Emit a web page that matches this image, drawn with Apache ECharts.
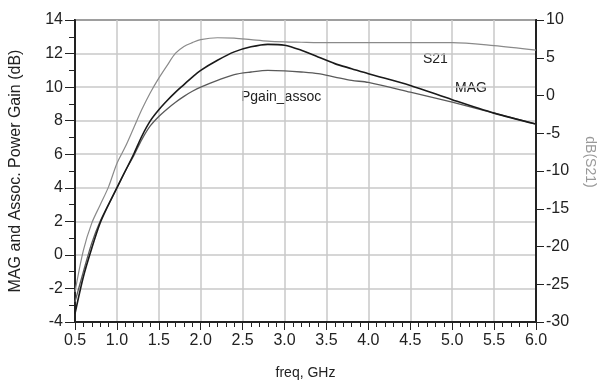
<!DOCTYPE html>
<html>
<head>
<meta charset="utf-8">
<script src="https://cdn.jsdelivr.net/npm/echarts@6/dist/echarts.min.js"></script>
<style>
  html, body { margin: 0; padding: 0; background: #fff; }
  #chart { width: 605px; height: 385px; }
</style>
</head>
<body>
<div id="chart"></div>
<script>
// frequency points (GHz)
var freq = [0.5, 0.6, 0.7, 0.8, 0.9, 1.0, 1.1, 1.2, 1.3, 1.4, 1.5, 1.6, 1.7, 1.8, 1.9, 2.0,
  2.2, 2.4, 2.6, 2.8, 3.0, 3.2, 3.4, 3.6, 3.8, 4.0, 4.5, 5.0, 5.5, 6.0]
// dB(S21), right axis
var s21 = [-26, -20.5, -16.9, -14.5, -12.1, -9.0, -6.8, -4.3, -1.8, 0.4, 2.3, 4.0, 5.6, 6.5, 7.0, 7.4,
  7.65, 7.6, 7.4, 7.2, 7.1, 7.05, 7.0, 7.0, 7.0, 7.0, 7.0, 7.0, 6.6, 6.0]
// MAG (dB), left axis
var mag = [-3.5, -1.3, 0.4, 1.9, 3.0, 4.0, 5.0, 6.0, 7.1, 8.0, 8.65, 9.2, 9.7, 10.15, 10.6, 11.0,
  11.6, 12.1, 12.4, 12.55, 12.5, 12.2, 11.8, 11.4, 11.1, 10.8, 10.1, 9.25, 8.45, 7.8]
// Pgain_assoc (dB), left axis
var pgain = [-2.8, -1.0, 0.7, 2.0, 3.0, 4.0, 5.0, 5.9, 6.9, 7.7, 8.25, 8.7, 9.1, 9.45, 9.75, 10.0,
  10.4, 10.75, 10.9, 11.0, 10.97, 10.9, 10.8, 10.6, 10.4, 10.28, 9.7, 9.1, 8.45, 7.8]

function pairs(ys) {
  return freq.map(function (f, i) { return [f, ys[i]] })
}

var font = 'Liberation Sans, Arial, sans-serif'
var chart = echarts.init(document.getElementById('chart'))
var option = {
  animation: false,
  textStyle: { fontFamily: font },
  grid: {
    left: 74, right: 69, top: 20, bottom: 60,
    show: true, borderColor: '#222', borderWidth: 2
  },
  xAxis: {
    type: 'value', min: 0.5, max: 6, interval: 0.5,
    name: 'freq, GHz', nameLocation: 'middle', nameGap: 44,
    nameTextStyle: { color: '#222', fontSize: 14, fontFamily: font },
    axisLine: { onZero: false, lineStyle: { color: '#222', width: 2 } },
    axisTick: { length: 8, lineStyle: { color: '#222' } },
    minorTick: { show: true, splitNumber: 5, length: 5, lineStyle: { color: '#222' } },
    axisLabel: {
      color: '#222', fontSize: 16, margin: 11, fontFamily: font,
      formatter: function (v) { return v.toFixed(1) }
    },
    splitLine: { show: true, lineStyle: { color: '#c8c8c8', width: 1.5 } }
  },
  yAxis: [
    {
      type: 'value', min: -4, max: 14, interval: 2,
      name: 'MAG and Assoc. Power Gain (dB)', nameLocation: 'middle', nameGap: 51,
      nameTextStyle: { color: '#222', fontSize: 16, fontFamily: font },
      axisLine: { show: true, onZero: false, lineStyle: { color: '#222', width: 2 } },
      axisTick: { show: true, length: 10, lineStyle: { color: '#222' } },
      minorTick: { show: true, splitNumber: 2, length: 6, lineStyle: { color: '#222' } },
      axisLabel: { color: '#222', fontSize: 16, margin: 12, fontFamily: font },
      splitLine: { show: true, lineStyle: { color: '#c8c8c8', width: 1.5 } }
    },
    {
      type: 'value', min: -30, max: 10, interval: 5, position: 'right',
      axisLine: { show: true, onZero: false, lineStyle: { color: '#222', width: 2 } },
      axisTick: { show: true, length: 8, lineStyle: { color: '#222' } },
      axisLabel: { color: '#222', fontSize: 16, margin: 10, fontFamily: font },
      splitLine: { show: false }
    }
  ],
  graphic: [
    { type: 'text', x: 423, y: 52, style: { text: 'S21', font: '14px ' + font, fill: '#222' } },
    { type: 'text', x: 455, y: 81, style: { text: 'MAG', font: '14px ' + font, fill: '#222' } },
    { type: 'text', x: 241, y: 90, style: { text: 'Pgain_assoc', font: '14px ' + font, fill: '#222' } },
    {
      type: 'text', x: 590, y: 162, rotation: -Math.PI / 2,
      style: { text: 'dB(S21)', font: '14px ' + font, fill: '#999', align: 'center', verticalAlign: 'middle' }
    }
  ],
  series: [
    {
      name: 'S21', type: 'line', yAxisIndex: 1, data: pairs(s21),
      showSymbol: false, smooth: 0.3,
      lineStyle: { color: '#8a8a8a', width: 1.2 }
    },
    {
      name: 'Pgain_assoc', type: 'line', yAxisIndex: 0, data: pairs(pgain),
      showSymbol: false, smooth: 0.3,
      lineStyle: { color: '#5a5a5a', width: 1.3 }
    },
    {
      name: 'MAG', type: 'line', yAxisIndex: 0, data: pairs(mag),
      showSymbol: false, smooth: 0.3,
      lineStyle: { color: '#1a1a1a', width: 1.6 }
    }
  ]
}
chart.setOption(option)
</script>
</body>
</html>
